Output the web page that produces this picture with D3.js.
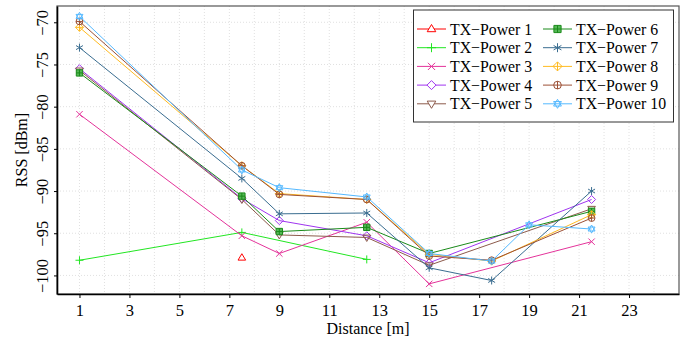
<!DOCTYPE html>
<html>
<head>
<meta charset="utf-8">
<script src="https://cdn.jsdelivr.net/npm/d3@7"></script>
<style>
  body { margin: 0; background: #fff; }
</style>
</head>
<body>
<div id="chart"></div>
<script>
const width = 683;
const height = 339;
const margin = { top: 6, right: 4, bottom: 45, left: 57 };

// distances [m] where measurements were taken
const distances = [1, 7.5, 9, 12.5, 15, 17.5, 19, 21.5];

// RSS [dBm] per TX power level (null = no measurement)
const tx1 = [null, -97.9, null, null, null, null, null, null];
const tx2 = [-98.2, -94.9, null, -98.1, null, null, null, null];
const tx3 = [-80.9, -95.3, -97.4, -93.7, -101.0, null, null, -96.0];
const tx4 = [-75.5, -90.9, -93.5, -95.3, -98.5, null, null, -91.0];
const tx5 = [-75.7, -91.0, -95.2, -95.5, -98.8, null, null, -92.1];
const tx6 = [-76.0, -90.6, -94.8, -94.3, -97.4, null, null, -92.4];
const tx7 = [-73.0, -88.5, -92.7, -92.6, -99.1, -100.6, null, -90.0];
const tx8 = [-70.6, -87.0, -90.3, -91.0, -97.5, -98.3, null, -92.8];
const tx9 = [-69.9, -87.0, -90.4, -91.0, -97.7, -98.2, null, -93.2];
const tx10 = [-69.3, -87.5, -89.6, -90.7, -97.4, -98.3, -94.0, -94.5];

const seriesNames = ["TX\u2212Power 1", "TX\u2212Power 2", "TX\u2212Power 3", "TX\u2212Power 4", "TX\u2212Power 5",
  "TX\u2212Power 6", "TX\u2212Power 7", "TX\u2212Power 8", "TX\u2212Power 9", "TX\u2212Power 10"];
const seriesValues = [tx1, tx2, tx3, tx4, tx5, tx6, tx7, tx8, tx9, tx10];
const colors = ["#ff0000", "#22e622", "#e4339a", "#a035f0", "#8c5a4b",
  "#1a8a1a", "#3a6d90", "#ffbb22", "#9c5035", "#55b9ff"];
const markers = ["triUp", "plus", "cross", "diamond", "triDown",
  "squarePlus", "asterisk", "diamondPlus", "circlePlus", "hexagram"];

const xTicks = [1, 3, 5, 7, 9, 11, 13, 15, 17, 19, 21, 23];
const yTicks = [-70, -75, -80, -85, -90, -95, -100];

const serif = "'Liberation Serif', serif";

const svg = d3.select("#chart").append("svg")
  .attr("width", width)
  .attr("height", height)
  .style("font-family", serif);

const x = d3.scaleLinear()
  .domain([0.1, 25])
  .range([margin.left, width - margin.right]);

const y = d3.scaleLinear()
  .domain([-102.2, -68.07])
  .range([height - margin.bottom, margin.top]);

// grid
svg.append("g")
  .selectAll("line")
  .data(d3.range(1, 25))
  .join("line")
  .attr("x1", d => x(d)).attr("x2", d => x(d))
  .attr("y1", margin.top).attr("y2", height - margin.bottom)
  .attr("stroke", "#d8d8d8")
  .attr("stroke-width", 0.8)
  .attr("stroke-dasharray", "1,2");

svg.append("g")
  .selectAll("line")
  .data(yTicks)
  .join("line")
  .attr("x1", margin.left).attr("x2", width - margin.right)
  .attr("y1", d => y(d)).attr("y2", d => y(d))
  .attr("stroke", "#d8d8d8")
  .attr("stroke-width", 0.8)
  .attr("stroke-dasharray", "1,2");

// marker shapes
function markerPath(type, r) {
  const p = d3.path();
  const s = Math.sqrt(3) / 2;
  switch (type) {
    case "triUp":
      p.moveTo(0, -r); p.lineTo(r * s * 1.1, r * 0.6); p.lineTo(-r * s * 1.1, r * 0.6); p.closePath(); break;
    case "triDown":
      p.moveTo(0, r); p.lineTo(r * s * 1.1, -r * 0.6); p.lineTo(-r * s * 1.1, -r * 0.6); p.closePath(); break;
    case "plus":
      p.moveTo(-r, 0); p.lineTo(r, 0); p.moveTo(0, -r); p.lineTo(0, r); break;
    case "cross":
      p.moveTo(-r * 0.8, -r * 0.8); p.lineTo(r * 0.8, r * 0.8);
      p.moveTo(-r * 0.8, r * 0.8); p.lineTo(r * 0.8, -r * 0.8); break;
    case "diamond":
      p.moveTo(0, -r); p.lineTo(r, 0); p.lineTo(0, r); p.lineTo(-r, 0); p.closePath(); break;
    case "diamondPlus":
      p.moveTo(0, -r); p.lineTo(r, 0); p.lineTo(0, r); p.lineTo(-r, 0); p.closePath();
      p.moveTo(-r, 0); p.lineTo(r, 0); p.moveTo(0, -r); p.lineTo(0, r); break;
    case "squarePlus":
      p.rect(-r * 0.8, -r * 0.8, r * 1.6, r * 1.6);
      p.moveTo(-r * 0.8, 0); p.lineTo(r * 0.8, 0); p.moveTo(0, -r * 0.8); p.lineTo(0, r * 0.8); break;
    case "circlePlus":
      p.moveTo(r * 0.85, 0); p.arc(0, 0, r * 0.85, 0, 2 * Math.PI);
      p.moveTo(-r * 0.85, 0); p.lineTo(r * 0.85, 0); p.moveTo(0, -r * 0.85); p.lineTo(0, r * 0.85); break;
    case "asterisk":
      for (let k = 0; k < 3; k++) {
        const a = Math.PI / 2 + k * Math.PI / 3;
        p.moveTo(Math.cos(a) * r, Math.sin(a) * r);
        p.lineTo(-Math.cos(a) * r, -Math.sin(a) * r);
      }
      break;
    case "hexagram":
      p.moveTo(0, -r); p.lineTo(r * s, r / 2); p.lineTo(-r * s, r / 2); p.closePath();
      p.moveTo(0, r); p.lineTo(r * s, -r / 2); p.lineTo(-r * s, -r / 2); p.closePath(); break;
  }
  return p.toString();
}

const line = d3.line()
  .x(d => x(d.x))
  .y(d => y(d.y));

seriesValues.forEach((vals, i) => {
  const pts = distances.map((d, j) => ({ x: d, y: vals[j] })).filter(d => d.y !== null);
  const g = svg.append("g");
  g.append("path")
    .datum(pts)
    .attr("d", line)
    .attr("fill", "none")
    .attr("stroke", colors[i])
    .attr("stroke-width", 1);
  g.selectAll("path.mk")
    .data(pts)
    .join("path")
    .attr("class", "mk")
    .attr("transform", d => `translate(${x(d.x)},${y(d.y)})`)
    .attr("d", markerPath(markers[i], 4))
    .attr("fill", markers[i] === "squarePlus" ? "#55b855" : "none")
    .attr("stroke", colors[i])
    .attr("stroke-width", 1);
});

// frame
svg.append("rect")
  .attr("x", margin.left).attr("y", margin.top)
  .attr("width", width - margin.left - margin.right)
  .attr("height", height - margin.top - margin.bottom)
  .attr("fill", "none")
  .attr("stroke", "#555")
  .attr("stroke-width", 1.2);

// X axis
const xAxis = svg.append("g")
  .attr("transform", `translate(0,${height - margin.bottom})`)
  .call(d3.axisBottom(x).tickValues(xTicks).tickSize(4).tickPadding(6).tickSizeOuter(0));
xAxis.attr("font-family", null).attr("font-size", null);
xAxis.selectAll("text").style("font-family", serif).style("font-size", "16.5px");
xAxis.select(".domain").attr("stroke", "#000").attr("stroke-width", 1.6);
xAxis.selectAll(".tick line").attr("stroke", "#000");

// Y axis
const yAxis = svg.append("g")
  .attr("transform", `translate(${margin.left},0)`)
  .call(d3.axisLeft(y).tickValues(yTicks).tickSize(3).tickSizeOuter(0)
    .tickFormat(d => d3.format("d")(d).replace("-", "\u2212")));
yAxis.attr("font-family", null).attr("font-size", null);
yAxis.select(".domain").attr("stroke", "#000").attr("stroke-width", 1.6);
yAxis.selectAll(".tick line").attr("stroke", "#000");
yAxis.selectAll("text")
  .style("font-family", serif).style("font-size", "16.5px")
  .attr("text-anchor", "middle")
  .attr("x", null)
  .attr("dy", "0em")
  .attr("transform", "translate(-9,0) rotate(-90)");

// axis titles
svg.append("text")
  .attr("x", (margin.left + width - margin.right) / 2)
  .attr("y", 334)
  .attr("text-anchor", "middle")
  .style("font-family", serif)
  .style("font-size", "16px")
  .text("Distance [m]");

svg.append("text")
  .attr("transform", `translate(27,${(margin.top + height - margin.bottom) / 2}) rotate(-90)`)
  .attr("text-anchor", "middle")
  .style("font-family", serif)
  .style("font-size", "16px")
  .text("RSS [dBm]");

// legend
const legend = svg.append("g");
legend.append("rect")
  .attr("x", 413.5).attr("y", 10)
  .attr("width", 260).attr("height", 112)
  .attr("fill", "#fff")
  .attr("stroke", "#333")
  .attr("stroke-width", 1);

seriesNames.forEach((name, i) => {
  const col = Math.floor(i / 5);
  const row = i % 5;
  const lx = col === 0 ? 417 : 543;
  const ly = 29 + row * 18.7;
  legend.append("line")
    .attr("x1", lx).attr("x2", lx + 29)
    .attr("y1", ly).attr("y2", ly)
    .attr("stroke", colors[i]).attr("stroke-width", 1);
  legend.append("path")
    .attr("transform", `translate(${lx + 14.5},${ly})`)
    .attr("d", markerPath(markers[i], 4.5))
    .attr("fill", markers[i] === "squarePlus" ? "#55b855" : "#fff")
    .attr("stroke", colors[i]).attr("stroke-width", 1);
  legend.append("text")
    .attr("x", lx + 33)
    .attr("y", ly + 5.5)
    .style("font-family", serif)
    .style("font-size", "15.8px")
    .text(name);
});
</script>
</body>
</html>
